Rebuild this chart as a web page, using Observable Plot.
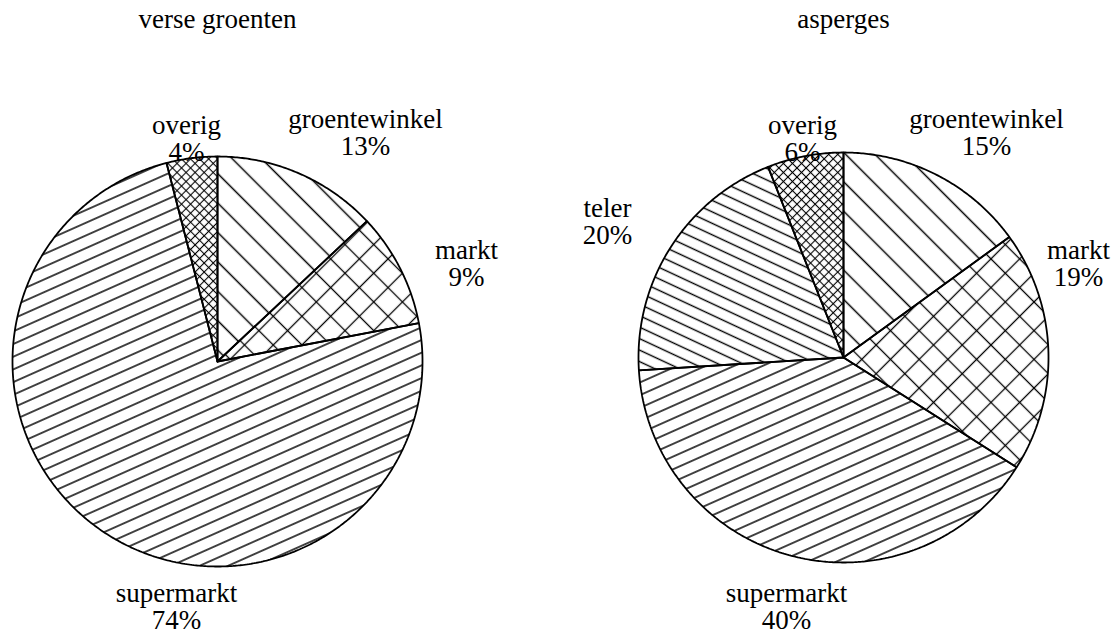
<!DOCTYPE html>
<html><head><meta charset="utf-8">
<script src="https://cdn.jsdelivr.net/npm/d3@7"></script>
<script src="https://cdn.jsdelivr.net/npm/@observablehq/plot@0.6"></script>
<style>
body{margin:0;background:#fff}
#chart svg, #chart svg text{font-family:"Liberation Serif","Times New Roman",serif !important}
</style>
</head><body>
<svg width="0" height="0" style="position:absolute">
<defs>
  <pattern id="p-groentewinkel" patternUnits="userSpaceOnUse" width="40" height="20.8" patternTransform="rotate(45)">
    <line x1="0" y1="10.4" x2="40" y2="10.4" stroke="#000" stroke-width="1.3"/>
  </pattern>
  <pattern id="p-markt" patternUnits="userSpaceOnUse" width="20.3" height="20.3" patternTransform="rotate(45)">
    <line x1="0" y1="10.15" x2="20.3" y2="10.15" stroke="#000" stroke-width="1.3"/>
    <line x1="10.15" y1="0" x2="10.15" y2="20.3" stroke="#000" stroke-width="1.3"/>
  </pattern>
  <pattern id="p-supermarkt" patternUnits="userSpaceOnUse" width="40" height="11.6" patternTransform="rotate(-24)">
    <line x1="0" y1="5.8" x2="40" y2="5.8" stroke="#000" stroke-width="1.3"/>
  </pattern>
  <pattern id="p-teler" patternUnits="userSpaceOnUse" width="40" height="10.4" patternTransform="rotate(25)">
    <line x1="0" y1="5.2" x2="40" y2="5.2" stroke="#000" stroke-width="1.3"/>
  </pattern>
  <pattern id="p-overig" patternUnits="userSpaceOnUse" width="6.4" height="6.4" patternTransform="rotate(45)">
    <line x1="0" y1="3.2" x2="6.4" y2="3.2" stroke="#000" stroke-width="1.1"/>
    <line x1="3.2" y1="0" x2="3.2" y2="6.4" stroke="#000" stroke-width="1.1"/>
  </pattern>
</defs>
</svg>
<div id="chart"></div>
<script>
// ---- data ----
const titles = ["verse groenten", "asperges"];
const categoriesVerse = ["groentewinkel", "markt", "supermarkt", "overig"];
const valuesVerse = [13, 9, 74, 4];
const categoriesAsperges = ["groentewinkel", "markt", "supermarkt", "teler", "overig"];
const valuesAsperges = [15, 19, 40, 20, 6];

// ---- layout (pixels) ----
const W = 1116, H = 636;
const R = 205;
const centers = [[217, 361], [843, 357]];
const titleY = 19;
const labelOffsets = [
  {groentewinkel: [148, -229], markt: [249, -98], supermarkt: [-41, 245], overig: [-31, -223]},
  {groentewinkel: [143, -225], markt: [235, -94], supermarkt: [-57, 249], teler: [-236, -136], overig: [-41, -219]}
];

const pies = [
  {title: titles[0], cats: categoriesVerse, vals: valuesVerse},
  {title: titles[1], cats: categoriesAsperges, vals: valuesAsperges}
];

const FONT = "Liberation Serif";
const sliceMarks = [];
const labelRows = [];
const titleRows = [];
pies.forEach((p, i) => {
  const [cx, cy] = centers[i];
  const total = d3.sum(p.vals);
  let acc = 0;
  p.cats.forEach((c, j) => {
    const a0 = acc / total * 2 * Math.PI;
    acc += p.vals[j];
    const a1 = acc / total * 2 * Math.PI;
    const n = Math.max(2, Math.ceil((a1 - a0) / (Math.PI / 360)));
    const pts = [{x: cx, y: cy}];
    for (let k = 0; k <= n; k++) {
      const a = a0 + (a1 - a0) * k / n;
      pts.push({x: cx + R * Math.sin(a), y: cy - R * Math.cos(a)});
    }
    pts.push({x: cx, y: cy});
    sliceMarks.push(Plot.line(pts, {
      x: "x", y: "y", fill: `url(#p-${c})`, stroke: "#000",
      strokeWidth: 1.8, strokeLinejoin: "miter", curve: "linear"
    }));
    const off = labelOffsets[i][c];
    labelRows.push({x: cx + off[0], y: cy + off[1], text: `${c}\n${p.vals[j]}%`});
  });
  titleRows.push({x: cx, y: titleY, text: p.title});
});

const chart = Plot.plot({
  width: W, height: H, margin: 0,
  style: {background: "#fff", color: "#000"},
  x: {domain: [0, W], range: [0, W], axis: null},
  y: {domain: [0, H], range: [0, H], axis: null},
  marks: [
    ...sliceMarks,
    Plot.text(labelRows, {x: "x", y: "y", text: "text", fontSize: 27, fontFamily: FONT, lineHeight: 1.03, fill: "#000"}),
    Plot.text(titleRows, {x: "x", y: "y", text: "text", fontSize: 27, fontFamily: FONT, fill: "#000"})
  ]
});
document.getElementById("chart").append(chart);
</script>
</body></html>
